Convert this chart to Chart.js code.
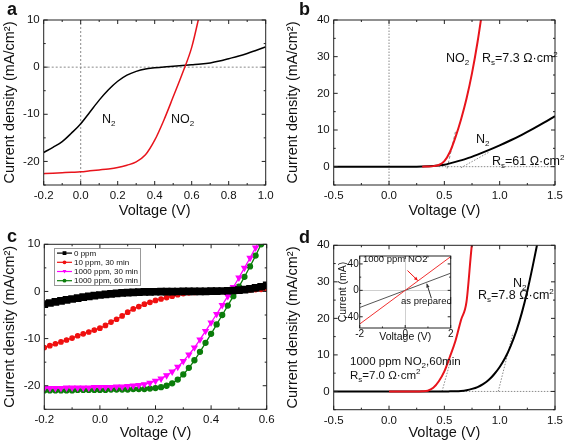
<!DOCTYPE html>
<html>
<head>
<meta charset="utf-8">
<script src="https://cdn.jsdelivr.net/npm/chart.js"></script>
<style>
  body { margin: 0; background: #fff; }
  #wrap { position: relative; width: 567px; height: 444px; overflow: hidden; font-family: "Liberation Sans", Arial, sans-serif; color: #111; }
  canvas { position: absolute; }
  .t { position: absolute; font-size: 12.5px; line-height: 1; white-space: nowrap; }
  .t sub { font-size: 8px; vertical-align: -3px; line-height: 0; }
  .t sup { font-size: 8px; vertical-align: 5px; line-height: 0; }
  .s { font-size: 9.5px; }
  .p { position: absolute; font-size: 18px; font-weight: bold; line-height: 1; }
</style>
</head>
<body>
<div id="wrap">
  <canvas id="ca" width="283" height="222" style="left:0;top:0"></canvas>
  <canvas id="cb" width="284" height="222" style="left:283px;top:0"></canvas>
  <canvas id="cc" width="283" height="222" style="left:0;top:222px"></canvas>
  <canvas id="cd" width="284" height="222" style="left:283px;top:222px"></canvas>
  <canvas id="ci" width="122" height="98" style="left:336px;top:249px"></canvas>

  <div class="p" style="left:7px;top:0">a</div>
  <div class="p" style="left:299px;top:0">b</div>
  <div class="p" style="left:7px;top:227px">c</div>
  <div class="p" style="left:299px;top:228px">d</div>

  <div class="t" style="left:102px;top:113px">N<sub>2</sub></div>
  <div class="t" style="left:171px;top:113px">NO<sub>2</sub></div>

  <div class="t" style="left:446px;top:52px">NO<sub>2</sub></div>
  <div class="t" style="left:482px;top:52px">R<sub>s</sub>=7.3 Ω·cm<sup>2</sup></div>
  <div class="t" style="left:476px;top:133px">N<sub>2</sub></div>
  <div class="t" style="left:492px;top:155px">R<sub>s</sub>=61 Ω·cm<sup>2</sup></div>

  <div class="t" style="left:513px;top:277px">N<sub>2</sub></div>
  <div class="t" style="left:478px;top:289px">R<sub>s</sub>=7.8 Ω·cm<sup>2</sup></div>
  <div class="t" style="left:350px;top:356px;font-size:11.5px">1000 ppm NO<sub>2</sub>,60min</div>
  <div class="t" style="left:350px;top:370px;font-size:11.5px">R<sub>s</sub>=7.0 Ω·cm<sup>2</sup></div>

  <div class="t s" style="left:363px;top:254px">1000 ppm NO2</div>
  <div class="t s" style="left:401px;top:296px">as prepared</div>
</div>

<script>
// ---- panel a: J-V under N2 / NO2 ----
const aV    = [-0.2, -0.15, -0.1, -0.05, 0, 0.05, 0.1, 0.15, 0.2, 0.25, 0.3, 0.35, 0.4, 0.45, 0.5, 0.55, 0.6, 0.65, 0.7, 0.75, 0.8, 0.85, 0.9, 0.95, 1.0];
const aN2   = [-18.1, -17.0, -15.8, -14.0, -12.0, -9.5, -7.0, -4.8, -3.0, -1.7, -0.9, -0.4, -0.15, 0.05, 0.2, 0.35, 0.5, 0.65, 0.9, 1.3, 1.8, 2.3, 2.9, 3.6, 4.3];
const aNO2V = [-0.2, -0.15, -0.1, -0.05, 0, 0.05, 0.1, 0.15, 0.2, 0.25, 0.3, 0.35, 0.4, 0.45, 0.5, 0.55, 0.6, 0.65];
const aNO2  = [-22.6, -22.5, -22.4, -22.3, -22.2, -22.0, -21.8, -21.6, -21.3, -20.8, -20.1, -18.6, -15.5, -11.2, -6.3, -1.3, 4.2, 12.5];

// ---- panel b: forward bias ----
const bV    = [-0.5, -0.4, -0.3, -0.2, -0.1, 0, 0.1, 0.2, 0.3, 0.4, 0.45, 0.5, 0.55, 0.6, 0.7, 0.8, 0.9, 1.0, 1.1, 1.2, 1.3, 1.4, 1.5];
const bN2   = [0, 0, 0, 0, 0, 0, 0, 0, 0.05, 0.2, 0.35, 0.55, 0.9, 1.3, 2.2, 3.3, 4.5, 5.8, 7.2, 8.7, 10.3, 12.0, 13.8];
const bNO2V = [0.3, 0.35, 0.4, 0.45, 0.5, 0.55, 0.6, 0.65, 0.7, 0.75, 0.8, 0.85];
const bNO2  = [0, 0.05, 0.15, 0.45, 1.5, 4.0, 8.0, 12.8, 18.5, 25.5, 34.0, 44.0];
const bTanNO2V = [0.525, 0.6],  bTanNO2 = [-0.5, 9.5];
const bTanN2V  = [0.65, 0.9],   bTanN2  = [-0.3, 3.9];

// ---- panel c: exposure series ----
const cV   = [-0.2, -0.18, -0.16, -0.14, -0.12, -0.1, -0.08, -0.06, -0.04, -0.02, 0, 0.02, 0.04, 0.06, 0.08, 0.1, 0.12, 0.14, 0.16, 0.18, 0.2,
              0.22, 0.24, 0.26, 0.28, 0.3, 0.32, 0.34, 0.36, 0.38, 0.4, 0.42, 0.44, 0.46, 0.48, 0.5, 0.52, 0.54, 0.56, 0.58, 0.6];
const c0   = [-2.7, -2.45, -2.2, -2.0, -1.8, -1.6, -1.4, -1.2, -1.05, -0.9, -0.75, -0.62, -0.5, -0.4, -0.32, -0.25, -0.2, -0.15, -0.11, -0.08, -0.06,
              -0.04, -0.03, -0.02, -0.01, 0, 0, 0.01, 0.02, 0.03, 0.05, 0.07, 0.1, 0.14, 0.2, 0.28, 0.4, 0.55, 0.75, 1.0, 1.3];
const c10  = [-11.9, -11.5, -11.1, -10.7, -10.3, -9.9, -9.4, -9.0, -8.6, -8.2, -7.8, -7.2, -6.5, -5.9, -5.2, -4.4, -3.7, -3.2, -2.7, -2.3, -1.9,
              -1.6, -1.3, -1.0, -0.7, -0.45, -0.3, -0.2, -0.1, -0.05, 0, 0.05, 0.1, 0.15, 0.2, 0.25, 0.3, 0.35, 0.4, 0.45, 0.5];
const c1k30 = [-20.5, -20.5, -20.5, -20.5, -20.4, -20.4, -20.4, -20.4, -20.4, -20.3, -20.3, -20.3, -20.3, -20.2, -20.2, -20.1, -20.0, -19.9, -19.7, -19.4, -19.0,
               -18.5, -17.8, -17.0, -16.0, -14.8, -13.4, -11.9, -10.2, -8.4, -6.6, -4.8, -2.9, -1.0, 0.9, 2.9, 5.0, 7.1, 9.3, 11.5, 13.6];
const c1k60 = [-21.0, -21.0, -21.0, -21.0, -21.0, -21.0, -20.9, -20.9, -20.9, -20.9, -20.9, -20.9, -20.8, -20.8, -20.8, -20.8, -20.7, -20.7, -20.7, -20.6, -20.5,
               -20.3, -20.0, -19.5, -18.7, -17.6, -16.2, -14.6, -12.8, -10.9, -9.0, -7.0, -5.0, -3.0, -1.0, 1.0, 3.1, 5.3, 7.6, 10.0, 12.3];
const cLabels = ['0 ppm', '10 ppm, 30 min', '1000 ppm, 30 min', '1000 ppm, 60 min'];

// ---- panel d: after 1000 ppm NO2 60 min ----
const dV    = [-0.5, -0.4, -0.3, -0.2, -0.1, 0, 0.1, 0.2, 0.3, 0.4, 0.5, 0.55, 0.6, 0.65, 0.7, 0.75, 0.8, 0.85, 0.9, 0.95, 1.0, 1.05, 1.1, 1.15, 1.2, 1.25, 1.3, 1.35];
const dN2   = [0, 0, 0, 0, 0, 0, 0, 0, 0, 0, 0, 0.02, 0.05, 0.15, 0.35, 0.7, 1.2, 2.0, 3.1, 4.7, 6.7, 9.2, 12.5, 16.5, 21.5, 27.5, 34.5, 42];
const dNO2V = [0.0, 0.1, 0.2, 0.25, 0.3, 0.35, 0.4, 0.45, 0.5, 0.55, 0.6, 0.65, 0.7, 0.75, 0.77];
const dNO2  = [0, 0, 0, 0, 0.05, 0.2, 1.0, 2.8, 5.5, 9.5, 13.8, 19.5, 24.5, 40.5, 44];
const dTanNO2V = [0.479, 0.554], dTanNO2 = [0, 8.2];
const dTanN2V  = [0.987, 1.12],  dTanN2  = [0, 16];

// inset: current vs voltage
const iV      = [-2, 0, 2];
const iNO2    = [-51, 0, 51];
const iPrep   = [-26, 0, 26];
const iArrowRed  = [[0.1, 30], [0.55, 15]];
const iArrowGray = [[1.15, -12], [0.95, 10]];

Chart.defaults.font.family = '"Liberation Sans", Arial, sans-serif';
Chart.defaults.color = '#111';
Chart.defaults.animation = false;

const pts = (xs, ys) => xs.map((x, i) => ({ x, y: ys[i] }));
const line = (xs, ys, color, width, extra) => Object.assign({
  data: pts(xs, ys), borderColor: color, backgroundColor: color, borderWidth: width,
  showLine: true, pointRadius: 0, cubicInterpolationMode: 'monotone'
}, extra || {});
const ref = (xs, ys, dash) => line(xs, ys, '#8a8a8a', 1, { borderDash: dash, cubicInterpolationMode: 'default', tension: 0 });

// inward ticks + frame, Origin style
const frame = {
  id: 'frame',
  beforeDraw(chart, args, o) {
    if (!o.fill) return;
    const { ctx, chartArea: a } = chart;
    ctx.save(); ctx.fillStyle = o.fill;
    ctx.fillRect(a.left, a.top, a.right - a.left, a.bottom - a.top);
    ctx.restore();
  },
  beforeDatasetsDraw(chart, args, o) {
    if (!o.zeroGrid) return;
    const { ctx, chartArea: a, scales: { x, y } } = chart;
    const px = Math.round(x.getPixelForValue(0)) + 0.5, py = Math.round(y.getPixelForValue(0)) + 0.5;
    ctx.save(); ctx.strokeStyle = o.zeroGrid; ctx.lineWidth = 1;
    ctx.beginPath();
    ctx.moveTo(px, a.top); ctx.lineTo(px, a.bottom);
    ctx.moveTo(a.left, py); ctx.lineTo(a.right, py);
    ctx.stroke(); ctx.restore();
  },
  afterDatasetsDraw(chart, args, o) {
    const { ctx, chartArea: a, scales: { x, y } } = chart;
    const marks = s => {
      const v = s.ticks.map(t => t.value).sort((p, q) => p - q);
      const step = v[1] - v[0], out = v.map(t => [t, o.major]);
      for (let m = v[0] - step / 2; m <= s.max + 1e-9; m += step) if (m >= s.min - 1e-9) out.push([m, o.minor]);
      return out;
    };
    ctx.save();
    ctx.strokeStyle = '#222'; ctx.lineWidth = 1;
    ctx.strokeRect(a.left, a.top, a.right - a.left, a.bottom - a.top);
    ctx.beginPath();
    for (const [v, len] of marks(x)) {
      const p = x.getPixelForValue(v);
      ctx.moveTo(p, a.bottom); ctx.lineTo(p, a.bottom - len);
      ctx.moveTo(p, a.top); ctx.lineTo(p, a.top + len);
    }
    for (const [v, len] of marks(y)) {
      const p = y.getPixelForValue(v);
      ctx.moveTo(a.left, p); ctx.lineTo(a.left + len, p);
      ctx.moveTo(a.right, p); ctx.lineTo(a.right - len, p);
    }
    ctx.stroke(); ctx.restore();
  }
};

function marker(ctx, style, x, y, r) {
  ctx.beginPath();
  if (style === 'rect') ctx.rect(x - r, y - r, 2 * r, 2 * r);
  else if (style === 'triangle') { ctx.moveTo(x - r, y - r * 0.8); ctx.lineTo(x + r, y - r * 0.8); ctx.lineTo(x, y + r); ctx.closePath(); }
  else ctx.arc(x, y, r, 0, Math.PI * 2);
  ctx.fill();
}

// legend box inside the plot area of panel c
const boxLegend = {
  id: 'boxLegend',
  afterDraw(chart, args, o) {
    if (!o.show) return;
    const { ctx, chartArea: a } = chart;
    const items = chart.data.datasets.filter(d => d.label);
    const x0 = a.left + o.dx, y0 = a.top + o.dy;
    ctx.save();
    ctx.fillStyle = '#fff'; ctx.fillRect(x0, y0, o.w, o.h);
    ctx.strokeStyle = '#999'; ctx.lineWidth = 1; ctx.strokeRect(x0 + 0.5, y0 + 0.5, o.w, o.h);
    ctx.font = '8px "Liberation Sans", Arial, sans-serif';
    ctx.textBaseline = 'middle';
    items.forEach((d, i) => {
      const cy = y0 + o.pad + o.rowH * (i + 0.5);
      ctx.strokeStyle = d.borderColor; ctx.lineWidth = 1.2;
      ctx.beginPath(); ctx.moveTo(x0 + 3, cy); ctx.lineTo(x0 + 18, cy); ctx.stroke();
      ctx.fillStyle = d.borderColor;
      marker(ctx, d.legendMarker, x0 + 10.5, cy, 1.9);
      ctx.fillStyle = '#111';
      ctx.fillText(d.label, x0 + 20, cy + 0.5);
    });
    ctx.restore();
  }
};

const arrows = {
  id: 'arrows',
  afterDatasetsDraw(chart, args, o) {
    if (!o.items) return;
    const { ctx, scales: { x, y } } = chart;
    ctx.save();
    o.items.forEach(it => {
      const x1 = x.getPixelForValue(it.pts[0][0]), y1 = y.getPixelForValue(it.pts[0][1]);
      const x2 = x.getPixelForValue(it.pts[1][0]), y2 = y.getPixelForValue(it.pts[1][1]);
      const ang = Math.atan2(y2 - y1, x2 - x1), hl = 4;
      ctx.strokeStyle = it.color; ctx.fillStyle = it.color; ctx.lineWidth = 1;
      ctx.beginPath(); ctx.moveTo(x1, y1); ctx.lineTo(x2, y2); ctx.stroke();
      ctx.beginPath(); ctx.moveTo(x2, y2);
      ctx.lineTo(x2 - hl * Math.cos(ang - 0.45), y2 - hl * Math.sin(ang - 0.45));
      ctx.lineTo(x2 - hl * Math.cos(ang + 0.45), y2 - hl * Math.sin(ang + 0.45));
      ctx.closePath(); ctx.fill();
    });
    ctx.restore();
  }
};

function fmt1(v) { return (Math.abs(v) < 1e-9 ? 0 : v).toFixed(1); }

function makeScales(o) {
  return {
    x: {
      type: 'linear', min: o.xmin, max: o.xmax,
      ticks: { stepSize: o.xstep, font: { size: o.tick || 11.5 }, padding: o.xpad ?? 4, maxRotation: 0, autoSkip: false, callback: o.xfmt || fmt1 },
      grid: { display: false, drawTicks: false }, border: { display: false },
      title: { display: true, text: 'Voltage (V)', font: { size: o.title || 14.5 }, padding: { top: 0, bottom: o.xtb ?? 2.3 } },
      afterFit: s => { s.height = o.xh; }
    },
    y: {
      type: 'linear', min: o.ymin, max: o.ymax,
      ticks: { stepSize: o.ystep, font: { size: o.tick || 11.5 }, padding: o.ypad ?? 4 },
      afterBuildTicks: s => { s.ticks = o.yticks.map(v => ({ value: v })); },
      grid: { display: false, drawTicks: false }, border: { display: false },
      title: { display: true, text: o.ytitle || 'Current density (mA/cm²)', font: { size: o.title || 14.5 }, padding: { top: o.ytp ?? 1.3, bottom: 0 } },
      afterFit: s => { s.width = o.yw; }
    }
  };
}

function build(id, datasets, sc, pad, extra) {
  return new Chart(document.getElementById(id), {
    type: 'scatter',
    data: { datasets },
    options: {
      responsive: false, devicePixelRatio: 1,
      layout: { padding: pad },
      scales: makeScales(sc),
      plugins: Object.assign({ legend: { display: false }, tooltip: { enabled: false }, frame: { major: 4, minor: 2 } }, extra || {})
    },
    plugins: [frame, boxLegend, arrows]
  });
}

// a
build('ca', [
  line(aNO2V, aNO2, '#e8141c', 1.5),
  line(aV, aN2, '#000', 1.5),
  ref([0, 0], [-25, 10], [2, 2]),
  ref([-0.2, 1.0], [0, 0], [2, 2])
], { xmin: -0.2, xmax: 1.0, xstep: 0.2, ymin: -25, ymax: 10, ystep: 10, yticks: [-20, -10, 0, 10], xh: 37, yw: 43.7 },
   { top: 20, right: 17.3, left: 0, bottom: 0 });

// b
build('cb', [
  line(bNO2V, bNO2, '#e8141c', 2),
  line(bV, bN2, '#000', 2),
  ref(bTanNO2V, bTanNO2, [3, 2]),
  ref(bTanN2V, bTanN2, [1.5, 1.5]),
  ref([0.45, 1.5], [0, 0], [1.5, 1.5]),
  ref([0, 0], [-5, 40], [1.5, 1.5])
], { xmin: -0.5, xmax: 1.5, xstep: 0.5, ymin: -5, ymax: 40, ystep: 10, yticks: [0, 10, 20, 30, 40], xh: 37, yw: 50.7 },
   { top: 20, right: 10, left: 0, bottom: 0 });

// c
build('cc', [
  line(cV, c0, '#000', 4, { label: cLabels[0], pointRadius: 2.6, pointStyle: 'rect', legendMarker: 'rect' }),
  line(cV, c10, '#f01010', 1.3, { label: cLabels[1], pointRadius: 2.2, pointStyle: 'circle', legendMarker: 'circle' }),
  line(cV, c1k30, '#ff00ff', 1.3, { label: cLabels[2], pointRadius: 3, pointStyle: 'triangle', rotation: 180, legendMarker: 'triangle' }),
  line(cV, c1k60, '#0b7d0b', 1.3, { label: cLabels[3], pointRadius: 2.5, pointStyle: 'circle', legendMarker: 'circle' })
], { xmin: -0.2, xmax: 0.6, xstep: 0.2, ymin: -25, ymax: 10, ystep: 10, yticks: [-20, -10, 0, 10], xh: 34.7, yw: 44.3 },
   { top: 22.3, right: 16.3, left: 0, bottom: 0 },
   { boxLegend: { show: true, dx: 9.7, dy: 3.7, w: 86, h: 37, pad: 0.5, rowH: 9.2 } });

// d
build('cd', [
  line(dNO2V, dNO2, '#e8141c', 2),
  line(dV, dN2, '#000', 2),
  ref(dTanNO2V, dTanNO2, [1.5, 1.5]),
  ref(dTanN2V, dTanN2, [1.5, 1.5]),
  ref([0.45, 1.5], [0, 0], [1.5, 1.5])
], { xmin: -0.5, xmax: 1.5, xstep: 0.5, ymin: -5, ymax: 40, ystep: 10, yticks: [0, 10, 20, 30, 40], xh: 34.3, yw: 50.7 },
   { top: 23.3, right: 10, left: 0, bottom: 0 });

// inset of d
build('ci', [
  line(iV, iNO2, '#f03030', 1),
  line(iV, iPrep, '#555', 1)
], { xmin: -2, xmax: 2, xstep: 2, ymin: -57, ymax: 52, ystep: 40, yticks: [-40, 0, 40], xh: 19, yw: 23.7,
     tick: 10, title: 10.5, xpad: 0, ypad: 1, ytp: 0.5, xtb: 3.6, ytitle: 'Current (mA)', xfmt: v => String(Math.round(v)) },
   { top: 2.3, right: 7.3, left: 0, bottom: 0 },
   { frame: { major: 3, minor: 1.5, fill: '#fff', zeroGrid: '#cfcfcf' },
     arrows: { items: [{ pts: iArrowRed, color: '#f01010' }, { pts: iArrowGray, color: '#333' }] } });
</script>
</body>
</html>
